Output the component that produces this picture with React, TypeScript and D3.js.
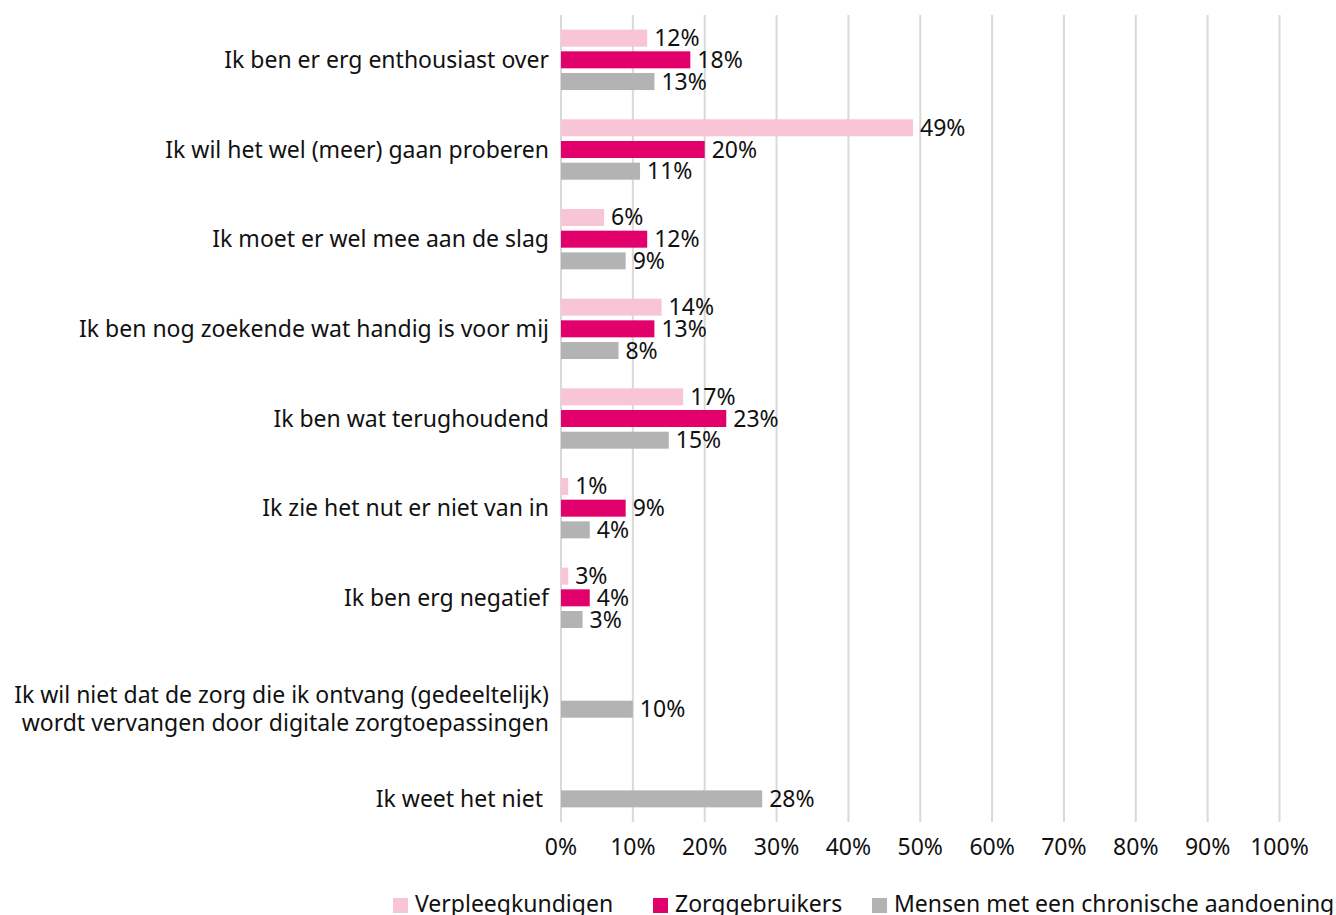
import React from "react";
import * as d3 from "d3";

const categories = [
  "Ik ben er erg enthousiast over",
  "Ik wil het wel (meer) gaan proberen",
  "Ik moet er wel mee aan de slag",
  "Ik ben nog zoekende wat handig is voor mij",
  "Ik ben wat terughoudend",
  "Ik zie het nut er niet van in",
  "Ik ben erg negatief",
  "Ik wil niet dat de zorg die ik ontvang (gedeeltelijk)\nwordt vervangen door digitale zorgtoepassingen",
  "Ik weet het niet ",
];
const seriesNames = ["Verpleegkundigen", "Zorggebruikers", "Mensen met een chronische aandoening"];
const verpleegkundigen: (number | null)[] = [0.12, 0.49, 0.06, 0.14, 0.17, 0.01, 0.01, null, null];
const verpleegLabels = ["12%", "49%", "6%", "14%", "17%", "1%", "3%", "", ""];
const zorggebruikers: (number | null)[] = [0.18, 0.2, 0.12, 0.13, 0.23, 0.09, 0.04, null, null];
const chronisch: (number | null)[] = [0.13, 0.11, 0.09, 0.08, 0.15, 0.04, 0.03, 0.1, 0.28];
const xTicks = [0, 0.1, 0.2, 0.3, 0.4, 0.5, 0.6, 0.7, 0.8, 0.9, 1.0];
const colors = ["#F7C5D5", "#E2006C", "#B3B3B3"];

const FONT = "'Noto Sans', sans-serif";

export default function App() {
  const W = 1336, H = 915;
  const x = d3.scaleLinear().domain([0, 1]).range([561, 1279.5]);
  const y = d3.scaleBand<string>().domain(categories).range([15, 822]).padding(0);
  const step = 21.7;
  const barH = 17;
  const fs = 23;
  const fmt = d3.format(".0%");
  const series = [verpleegkundigen, zorggebruikers, chronisch];
  const labelsFor = (s: number, i: number, v: number) =>
    s === 0 && verpleegLabels[i] ? verpleegLabels[i] : fmt(v);

  return (
    <svg width={W} height={H} style={{ position: "absolute", left: 0, top: 0, background: "#fff" }} fontFamily={FONT}>
      {xTicks.map((t) => (
        <line key={"g" + t} x1={x(t)} x2={x(t)} y1={15} y2={822} stroke="#D9D9D9" strokeWidth={2} />
      ))}
      {categories.map((c, i) => {
        const center = (y(c) as number) + y.bandwidth() / 2;
        const present = series.map((s, si) => (s[i] != null ? center + (si - 1) * step : null)).filter((v) => v != null) as number[];
        const ly = d3.mean(present) as number;
        const lines = c.split("\n");
        return (
          <g key={c}>
            {series.map((s, si) => {
              const v = s[i];
              if (v == null) return null;
              const cy = center + (si - 1) * step;
              return (
                <g key={si}>
                  <rect x={x(0)} y={cy - barH / 2} width={x(v) - x(0)} height={barH} fill={colors[si]} />
                  <text x={x(v) + 7} y={cy - 1} dominantBaseline="central" fontSize={fs} fill="#111">
                    {labelsFor(si, i, v)}
                  </text>
                </g>
              );
            })}
            {lines.map((ln, li) => (
              <text
                key={li}
                x={549}
                y={ly + (li - (lines.length - 1) / 2) * 28 - 1}
                textAnchor="end"
                dominantBaseline="central"
                fontSize={fs}
                fill="#111"
                style={{ whiteSpace: "pre" }}
              >
                {ln}
              </text>
            ))}
          </g>
        );
      })}
      {xTicks.map((t) => (
        <text key={"t" + t} x={x(t)} y={846} textAnchor="middle" dominantBaseline="central" fontSize={fs} fill="#111">
          {fmt(t)}
        </text>
      ))}
      {seriesNames.map((n, i) => {
        const lx = [393, 653, 872][i];
        return (
          <g key={n}>
            <rect x={lx} y={898} width={15} height={15} fill={colors[i]} />
            <text x={lx + 22} y={912} fontSize={fs} fill="#111">
              {n}
            </text>
          </g>
        );
      })}
    </svg>
  );
}
